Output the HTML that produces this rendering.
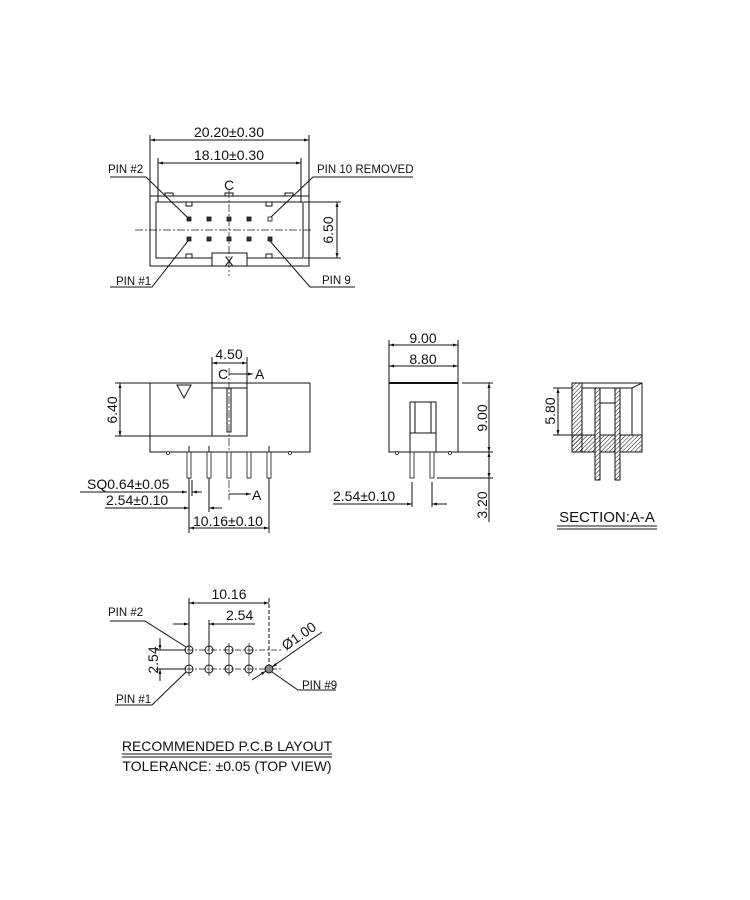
<!DOCTYPE html>
<html><head><meta charset="utf-8"><style>
html,body{margin:0;padding:0;background:#fff;}
svg{display:block;}
text{font-family:"Liberation Sans",sans-serif;font-size:14px;fill:#111;}
</style></head><body>
<svg width="750" height="900" viewBox="0 0 750 900" xmlns="http://www.w3.org/2000/svg">
<defs>
<marker id="a" viewBox="0 0 10 10" refX="10" refY="5" markerWidth="7" markerHeight="5" orient="auto-start-reverse"><path d="M0,2 L10,5 L0,8 z" fill="#111"/></marker>
<pattern id="h" width="3" height="3" patternUnits="userSpaceOnUse" patternTransform="rotate(45)"><line x1="0" y1="0" x2="0" y2="3" stroke="#111" stroke-width="1"/></pattern>
</defs>
<g stroke="#111" stroke-width="1" fill="none">
<rect x="150" y="196" width="159" height="70"/>
<rect x="156" y="202" width="147" height="56"/>
<rect x="165" y="193" width="8" height="3"/><rect x="225" y="193" width="8" height="3"/><rect x="285" y="193" width="8" height="3"/>
<rect x="186" y="202" width="6" height="4"/><rect x="266" y="202" width="6" height="4"/>
<rect x="186" y="254" width="6" height="4"/><rect x="266" y="254" width="6" height="4"/>
<rect x="212" y="253" width="35" height="13" fill="#fff"/>
<line x1="135" y1="230" x2="313" y2="230" stroke-dasharray="8,2,2,2" stroke-width="0.7"/>
<line x1="229" y1="190" x2="229" y2="276" stroke-dasharray="8,2,2,2" stroke-width="0.7"/>
<line x1="150" y1="135" x2="150" y2="196"/><line x1="309" y1="135" x2="309" y2="196"/>
<line x1="150" y1="140" x2="309" y2="140" marker-start="url(#a)" marker-end="url(#a)"/>
<line x1="158" y1="158" x2="158" y2="202"/><line x1="301" y1="158" x2="301" y2="202"/>
<line x1="158" y1="163" x2="301" y2="163" marker-start="url(#a)" marker-end="url(#a)"/>
<line x1="304" y1="202" x2="341" y2="202"/><line x1="304" y1="258" x2="341" y2="258"/>
<line x1="337" y1="202" x2="337" y2="258" marker-start="url(#a)" marker-end="url(#a)"/>
<polyline points="110,177 146,177 187,217"/>
<polyline points="413,177 313,177 271,217"/>
<polyline points="110,287 152,287 188,241"/>
<polyline points="355,287 310,287 270,241"/>
</g>
<g fill="#333" stroke="#111" stroke-width="0.8">
<rect x="187" y="217" width="4" height="4"/><rect x="207" y="217" width="4" height="4"/><rect x="227" y="217" width="4" height="4"/><rect x="247" y="217" width="4" height="4"/>
<rect x="268" y="217" width="4" height="4" fill="#fff"/>
<rect x="187" y="237" width="4" height="4"/><rect x="207" y="237" width="4" height="4"/><rect x="227" y="237" width="4" height="4"/><rect x="247" y="237" width="4" height="4"/><rect x="268" y="237" width="4" height="4"/>
</g>
<text x="229" y="137" text-anchor="middle">20.20±0.30</text>
<text x="229" y="160" text-anchor="middle">18.10±0.30</text>
<text x="229" y="190" text-anchor="middle">C</text>
<text x="229" y="266" text-anchor="middle">X</text>
<text x="0" y="0" text-anchor="middle" transform="translate(333,230) rotate(-90)">6.50</text>
<text x="108" y="173" style="font-size:11.5px">PIN #2</text>
<text x="317" y="173" style="font-size:11.5px">PIN 10 REMOVED</text>
<text x="116" y="285" style="font-size:11.5px">PIN #1</text>
<text x="322" y="284" style="font-size:11.5px">PIN 9</text>

<!-- SIDE VIEW -->
<g stroke="#111" stroke-width="1" fill="none">
<rect x="150" y="383" width="160" height="69"/>
<rect x="212" y="383" width="35" height="53"/>
<line x1="212" y1="388" x2="247" y2="388"/>
<polygon points="177,385 191,385 184,398"/>
<rect x="227" y="388" width="4" height="44"/>
<line x1="229" y1="368" x2="229" y2="500" stroke-dasharray="8,2,2,2" stroke-width="0.7"/>
<line x1="229" y1="374" x2="253" y2="374" marker-end="url(#a)"/>
<line x1="229" y1="494" x2="251" y2="494" marker-end="url(#a)"/>
<line x1="115" y1="383" x2="150" y2="383"/><line x1="115" y1="436" x2="212" y2="436"/>
<line x1="120" y1="383" x2="120" y2="436" marker-start="url(#a)" marker-end="url(#a)"/>
<line x1="212" y1="357" x2="212" y2="383"/><line x1="247" y1="357" x2="247" y2="383"/>
<line x1="212" y1="363" x2="247" y2="363" marker-start="url(#a)" marker-end="url(#a)"/>
<line x1="80" y1="492" x2="187" y2="492" marker-end="url(#a)"/>
<line x1="202" y1="492" x2="192" y2="492" marker-end="url(#a)"/>
<line x1="105" y1="508" x2="189" y2="508" marker-end="url(#a)"/>
<line x1="222" y1="508" x2="209" y2="508" marker-end="url(#a)"/>
<line x1="189" y1="446" x2="189" y2="533"/><line x1="192" y1="480" x2="192" y2="496"/>
<line x1="209" y1="446" x2="209" y2="512"/>
<line x1="269" y1="446" x2="269" y2="533"/>
<line x1="189" y1="528" x2="269" y2="528" marker-start="url(#a)" marker-end="url(#a)"/>
</g>
<g stroke="#111" stroke-width="0.8" fill="#fff">
<rect x="187" y="452" width="4" height="26"/><rect x="207" y="452" width="4" height="26"/><rect x="227" y="452" width="4" height="26"/><rect x="247" y="452" width="4" height="26"/><rect x="267" y="452" width="4" height="26"/>
<circle cx="168" cy="453" r="1.5"/><circle cx="290" cy="453" r="1.5"/>
</g>
<text x="229" y="359" text-anchor="middle">4.50</text>
<text x="218" y="379">C</text>
<text x="255" y="379">A</text>
<text x="252" y="500">A</text>
<text x="0" y="0" text-anchor="middle" transform="translate(117,410) rotate(-90)">6.40</text>
<text x="87" y="489">SQ0.64±0.05</text>
<text x="106" y="505">2.54±0.10</text>
<text x="193" y="526">10.16±0.10</text>

<!-- END VIEW -->
<g stroke="#111" stroke-width="1" fill="none">
<rect x="389" y="383" width="69" height="69"/>
<line x1="389" y1="383" x2="458" y2="383" stroke-width="2"/>
<rect x="410" y="402" width="26" height="50"/>
<line x1="410" y1="433" x2="436" y2="433"/>
<line x1="415" y1="402" x2="415" y2="433"/><line x1="431" y1="402" x2="431" y2="433"/>
<line x1="389" y1="340" x2="389" y2="383"/><line x1="458" y1="340" x2="458" y2="383"/>
<line x1="389" y1="345" x2="458" y2="345" marker-start="url(#a)" marker-end="url(#a)"/>
<line x1="389" y1="366" x2="458" y2="366" marker-start="url(#a)" marker-end="url(#a)"/>
<line x1="462" y1="383" x2="493" y2="383"/><line x1="458" y1="452" x2="493" y2="452"/>
<line x1="437" y1="478" x2="493" y2="478"/>
<line x1="489" y1="383" x2="489" y2="452" marker-start="url(#a)" marker-end="url(#a)"/>
<line x1="489" y1="452" x2="489" y2="478" marker-start="url(#a)" marker-end="url(#a)"/>
<line x1="489" y1="478" x2="489" y2="522"/>
<line x1="412" y1="482" x2="412" y2="507"/><line x1="432" y1="482" x2="432" y2="507"/>
<line x1="333" y1="504" x2="412" y2="504" marker-end="url(#a)"/>
<line x1="447" y1="504" x2="432" y2="504" marker-end="url(#a)"/>
</g>
<g stroke="#111" stroke-width="0.8" fill="#fff">
<rect x="410" y="452" width="4" height="26"/><rect x="430" y="452" width="4" height="26"/>
<circle cx="397" cy="453" r="1.5"/><circle cx="450" cy="453" r="1.5"/>
</g>
<text x="423" y="343" text-anchor="middle">9.00</text>
<text x="423" y="364" text-anchor="middle">8.80</text>
<text x="0" y="0" text-anchor="middle" transform="translate(487,418) rotate(-90)">9.00</text>
<text x="0" y="0" text-anchor="middle" transform="translate(487,505) rotate(-90)">3.20</text>
<text x="333" y="501">2.54±0.10</text>

<!-- SECTION -->
<g stroke="#111" stroke-width="1">
<rect x="572" y="383" width="70" height="69" fill="none"/>
<line x1="582" y1="388" x2="632" y2="388"/>
<line x1="632" y1="388" x2="632" y2="435"/><line x1="632" y1="388" x2="642" y2="383"/>
<rect x="572" y="383" width="10" height="69" fill="url(#h)"/>
<rect x="572" y="435" width="70" height="17" fill="url(#h)"/>
<line x1="600" y1="403" x2="615" y2="403"/>
<rect x="595" y="388" width="5" height="92" fill="#fff"/><rect x="595" y="388" width="5" height="92" fill="url(#h)"/>
<rect x="615" y="388" width="5" height="92" fill="#fff"/><rect x="615" y="388" width="5" height="92" fill="url(#h)"/>
<line x1="553" y1="388" x2="572" y2="388"/><line x1="553" y1="435" x2="572" y2="435"/>
<line x1="558" y1="388" x2="558" y2="435" marker-start="url(#a)" marker-end="url(#a)"/>
<line x1="557" y1="526" x2="657" y2="526"/><line x1="557" y1="529" x2="657" y2="529"/>
</g>
<text x="0" y="0" text-anchor="middle" transform="translate(555,411) rotate(-90)">5.80</text>
<text x="607" y="522" text-anchor="middle" style="font-size:15px">SECTION:A-A</text>

<!-- PCB -->
<g stroke="#111" stroke-width="1" fill="none">
<line x1="175" y1="650" x2="282" y2="650" stroke-dasharray="6,2,2,2" stroke-width="0.7"/>
<line x1="175" y1="669" x2="282" y2="669" stroke-dasharray="6,2,2,2" stroke-width="0.7"/>
<line x1="189" y1="598" x2="189" y2="650"/><line x1="209" y1="620" x2="209" y2="650"/>
<line x1="269" y1="598" x2="269" y2="665" stroke-dasharray="4,2"/>
<line x1="189" y1="603" x2="269" y2="603" marker-start="url(#a)" marker-end="url(#a)"/>
<line x1="173" y1="624" x2="189" y2="624" marker-end="url(#a)"/>
<line x1="255" y1="624" x2="209" y2="624" marker-end="url(#a)"/>
<line x1="156" y1="650" x2="186" y2="650"/><line x1="156" y1="669" x2="186" y2="669"/>
<line x1="160" y1="638" x2="160" y2="650" marker-end="url(#a)"/>
<line x1="160" y1="681" x2="160" y2="669" marker-end="url(#a)"/>
<circle cx="189" cy="650" r="4"/><circle cx="209" cy="650" r="4"/><circle cx="229" cy="650" r="4"/><circle cx="249" cy="650" r="4"/>
<circle cx="189" cy="669" r="4"/><circle cx="209" cy="669" r="4"/><circle cx="229" cy="669" r="4"/><circle cx="249" cy="669" r="4"/><circle cx="269" cy="669" r="4" fill="#888"/>
<line x1="189" y1="643" x2="189" y2="676" stroke-width="0.7"/><line x1="209" y1="643" x2="209" y2="676" stroke-width="0.7"/><line x1="229" y1="643" x2="229" y2="676" stroke-width="0.7"/><line x1="249" y1="643" x2="249" y2="676" stroke-width="0.7"/>
<line x1="252" y1="680" x2="266" y2="671" marker-end="url(#a)"/>
<line x1="322" y1="632" x2="272" y2="667" marker-end="url(#a)"/>
<polyline points="110,621 145,621 186,647"/>
<polyline points="115,705 152,705 186,672"/>
<polyline points="336,690 298,690 272,672"/>
<line x1="122" y1="754" x2="332" y2="754"/><line x1="122" y1="757" x2="332" y2="757"/>
</g>
<text x="229" y="599" text-anchor="middle">10.16</text>
<text x="226" y="620">2.54</text>
<text x="0" y="0" text-anchor="middle" transform="translate(158,660) rotate(-90)">2.54</text>
<text x="0" y="0" transform="translate(286,651) rotate(-35)">Ø1.00</text>
<text x="108" y="616" style="font-size:11.5px">PIN #2</text>
<text x="116" y="703" style="font-size:11.5px">PIN #1</text>
<text x="302" y="689" style="font-size:11.5px">PIN #9</text>
<text x="227" y="751" text-anchor="middle">RECOMMENDED P.C.B LAYOUT</text>
<text x="227" y="771" text-anchor="middle">TOLERANCE: ±0.05 (TOP VIEW)</text>
</svg>
</body></html>
